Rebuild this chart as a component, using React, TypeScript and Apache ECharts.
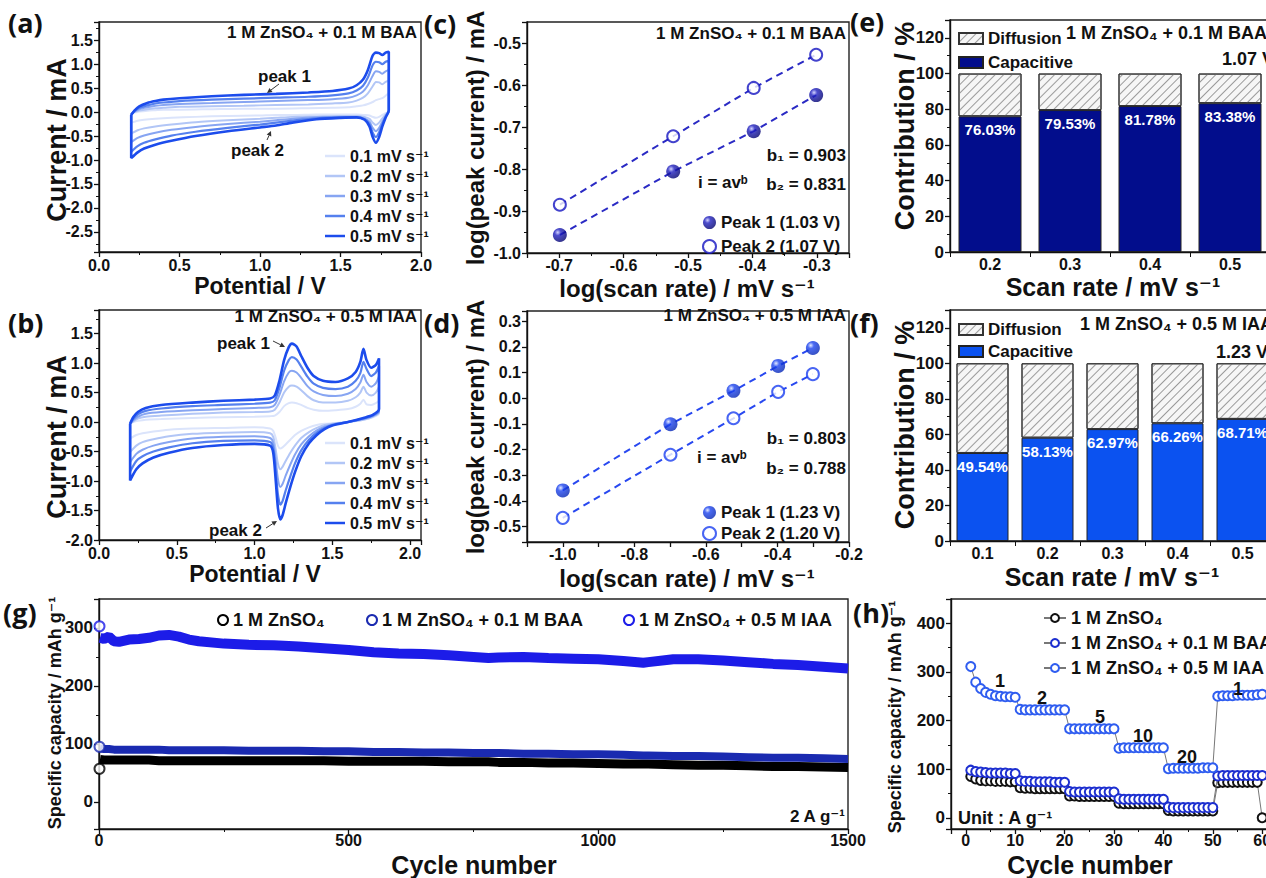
import React, { useEffect, useRef } from 'react';
import * as echarts from 'echarts';

const FONT = '"Liberation Sans", "DejaVu Sans", Arial, sans-serif';
const PFONT = '"Open Sans", "Liberation Sans", sans-serif';

// ---------- (a),(b) cyclic voltammetry ----------
const SCAN_NAMES = ['0.1 mV s⁻¹', '0.2 mV s⁻¹', '0.3 mV s⁻¹', '0.4 mV s⁻¹', '0.5 mV s⁻¹'];
const CV_COLORS = ['#dbe4fb', '#b2c6f6', '#87a5f2', '#5580ee', '#1c4cec'];
const CV_WIDTHS = [2, 2, 2, 2.2, 2.6];

const A_FWD_V = [0.2, 0.22, 0.25, 0.3, 0.35, 0.4, 0.5, 0.7, 0.9, 1.1, 1.3, 1.45, 1.55, 1.6, 1.64, 1.67, 1.7, 1.72, 1.74, 1.76, 1.78, 1.8];
const A_F1 = [-0.03, -0.01, 0.01, 0.03, 0.04, 0.05, 0.05, 0.06, 0.07, 0.07, 0.08, 0.09, 0.1, 0.12, 0.14, 0.17, 0.21, 0.25, 0.27, 0.29, 0.34, 0.4];
const A_F2 = [-0.04, 0.0, 0.03, 0.06, 0.08, 0.09, 0.11, 0.12, 0.13, 0.15, 0.16, 0.18, 0.2, 0.24, 0.3, 0.39, 0.54, 0.63, 0.62, 0.58, 0.63, 0.66];
const A_F3 = [-0.05, 0.01, 0.06, 0.1, 0.13, 0.15, 0.17, 0.19, 0.21, 0.23, 0.25, 0.27, 0.3, 0.35, 0.43, 0.56, 0.76, 0.85, 0.84, 0.8, 0.85, 0.88];
const A_F4 = [-0.05, 0.02, 0.09, 0.14, 0.18, 0.2, 0.23, 0.26, 0.28, 0.3, 0.32, 0.35, 0.39, 0.45, 0.55, 0.72, 0.98, 1.05, 1.04, 1.0, 1.05, 1.07];
const A_F5 = [-0.06, 0.03, 0.12, 0.19, 0.23, 0.26, 0.29, 0.33, 0.36, 0.38, 0.41, 0.44, 0.49, 0.56, 0.68, 0.88, 1.18, 1.24, 1.23, 1.19, 1.24, 1.26];
const A_REV_V = [1.8, 1.78, 1.76, 1.74, 1.72, 1.7, 1.68, 1.65, 1.6, 1.5, 1.35, 1.2, 1.1, 1.0, 0.8, 0.6, 0.45, 0.35, 0.28, 0.24, 0.2];
const A_R1 = [0.02, -0.02, -0.06, -0.1, -0.12, -0.1, -0.07, -0.06, -0.05, -0.05, -0.05, -0.06, -0.06, -0.07, -0.08, -0.1, -0.12, -0.14, -0.16, -0.18, -0.22];
const A_R2 = [0.02, -0.05, -0.13, -0.22, -0.27, -0.22, -0.14, -0.1, -0.08, -0.08, -0.09, -0.1, -0.12, -0.14, -0.17, -0.21, -0.26, -0.3, -0.34, -0.38, -0.45];
const A_R3 = [0.03, -0.08, -0.2, -0.33, -0.4, -0.33, -0.2, -0.13, -0.1, -0.1, -0.11, -0.14, -0.17, -0.2, -0.25, -0.31, -0.37, -0.43, -0.49, -0.54, -0.63];
const A_R4 = [0.03, -0.1, -0.25, -0.42, -0.52, -0.43, -0.25, -0.15, -0.11, -0.11, -0.13, -0.18, -0.22, -0.26, -0.33, -0.41, -0.49, -0.57, -0.64, -0.71, -0.83];
const A_R5 = [0.04, -0.12, -0.3, -0.52, -0.64, -0.52, -0.3, -0.16, -0.11, -0.12, -0.15, -0.22, -0.28, -0.32, -0.4, -0.5, -0.6, -0.68, -0.76, -0.84, -0.96];

const B_FWD_V = [0.2, 0.22, 0.25, 0.3, 0.4, 0.6, 0.8, 1.0, 1.1, 1.13, 1.16, 1.19, 1.22, 1.24, 1.27, 1.3, 1.34, 1.38, 1.44, 1.52, 1.6, 1.65, 1.68, 1.7, 1.72, 1.75, 1.78, 1.8];
const B_F1 = [-0.02, 0.0, 0.02, 0.04, 0.05, 0.07, 0.08, 0.09, 0.1, 0.11, 0.17, 0.27, 0.32, 0.33, 0.32, 0.29, 0.24, 0.21, 0.19, 0.2, 0.22, 0.26, 0.31, 0.38, 0.3, 0.29, 0.32, 0.36];
const B_F2 = [-0.03, 0.01, 0.06, 0.09, 0.11, 0.14, 0.16, 0.17, 0.18, 0.21, 0.33, 0.5, 0.6, 0.62, 0.6, 0.54, 0.44, 0.37, 0.33, 0.33, 0.36, 0.42, 0.5, 0.6, 0.5, 0.45, 0.5, 0.6];
const B_F3 = [-0.03, 0.03, 0.09, 0.14, 0.17, 0.2, 0.22, 0.24, 0.25, 0.29, 0.46, 0.69, 0.84, 0.87, 0.84, 0.75, 0.61, 0.52, 0.46, 0.44, 0.48, 0.56, 0.67, 0.8, 0.68, 0.6, 0.66, 0.78];
const B_F4 = [-0.03, 0.05, 0.13, 0.19, 0.23, 0.27, 0.29, 0.31, 0.33, 0.37, 0.58, 0.87, 1.05, 1.1, 1.06, 0.94, 0.77, 0.65, 0.58, 0.56, 0.6, 0.7, 0.83, 1.02, 0.9, 0.78, 0.84, 0.95];
const B_F5 = [-0.03, 0.08, 0.17, 0.24, 0.29, 0.33, 0.36, 0.38, 0.4, 0.45, 0.7, 1.05, 1.27, 1.33, 1.28, 1.12, 0.92, 0.78, 0.7, 0.68, 0.74, 0.85, 1.02, 1.24, 1.05, 0.92, 0.97, 1.08];
const B_REV_V = [1.8, 1.76, 1.7, 1.6, 1.5, 1.45, 1.4, 1.35, 1.3, 1.26, 1.23, 1.2, 1.18, 1.165, 1.15, 1.135, 1.12, 1.1, 1.0, 0.8, 0.6, 0.45, 0.35, 0.28, 0.24, 0.2];
const B_R1 = [0.14, 0.08, 0.04, 0.0, -0.02, -0.03, -0.05, -0.09, -0.15, -0.22, -0.3, -0.38, -0.43, -0.45, -0.4, -0.26, -0.15, -0.11, -0.09, -0.1, -0.11, -0.13, -0.16, -0.19, -0.22, -0.28];
const B_R2 = [0.16, 0.09, 0.04, 0.0, -0.03, -0.05, -0.1, -0.17, -0.27, -0.4, -0.52, -0.66, -0.76, -0.8, -0.7, -0.45, -0.25, -0.19, -0.17, -0.18, -0.2, -0.24, -0.29, -0.34, -0.4, -0.51];
const B_R3 = [0.18, 0.1, 0.05, 0.0, -0.04, -0.08, -0.14, -0.24, -0.38, -0.55, -0.72, -0.91, -1.05, -1.1, -0.96, -0.62, -0.35, -0.27, -0.24, -0.25, -0.28, -0.34, -0.4, -0.47, -0.54, -0.68];
const B_R4 = [0.2, 0.11, 0.06, 0.0, -0.05, -0.1, -0.18, -0.3, -0.48, -0.7, -0.92, -1.16, -1.34, -1.4, -1.22, -0.8, -0.44, -0.34, -0.31, -0.32, -0.36, -0.43, -0.5, -0.58, -0.66, -0.84];
const B_R5 = [0.22, 0.12, 0.07, 0.0, -0.06, -0.12, -0.22, -0.36, -0.58, -0.85, -1.1, -1.38, -1.58, -1.65, -1.45, -0.95, -0.52, -0.4, -0.37, -0.39, -0.44, -0.52, -0.6, -0.7, -0.8, -0.99];

// ---------- (c),(d) log-log fits ----------
const LOG_V_C = [-0.699, -0.523, -0.398, -0.301];
const C_PEAK1 = [-0.957, -0.806, -0.71, -0.624];
const C_PEAK2 = [-0.885, -0.722, -0.607, -0.528];
const LOG_V_D = [-1.0, -0.699, -0.523, -0.398, -0.301];
const D_PEAK1 = [-0.359, -0.101, 0.029, 0.126, 0.196];
const D_PEAK2 = [-0.466, -0.22, -0.078, 0.025, 0.094];

// ---------- (e),(f) contributions ----------
const E_RATES = ['0.2', '0.3', '0.4', '0.5'];
const E_CAP = [76.03, 79.53, 81.78, 83.38];
const F_RATES = ['0.1', '0.2', '0.3', '0.4', '0.5'];
const F_CAP = [49.54, 58.13, 62.97, 66.26, 68.71];

// ---------- (g) long cycling ----------
const G_CYC = [2, 10, 20, 30, 40, 60, 80, 100, 120, 140, 160, 180, 200, 250, 300, 350, 400, 450, 500, 550, 600, 650, 700, 750, 780, 800, 850, 900, 950, 1000, 1050, 1090, 1100, 1150, 1200, 1250, 1300, 1350, 1400, 1450, 1500];
const G_IAA = [283, 281, 285, 277, 276, 280, 281, 283, 287, 288, 285, 280, 277, 273, 271, 270, 268, 265, 262, 258, 256, 255, 253, 250, 248, 249, 250, 248, 247, 246, 243, 240, 241, 246, 246, 244, 241, 238, 236, 233, 230];
const G_BAA = [92, 91, 91, 90, 90, 90, 90, 90, 90, 89, 89, 89, 89, 89, 88, 88, 88, 87, 87, 86, 86, 85, 85, 84, 84, 84, 83, 83, 82, 82, 81, 80, 80, 79, 79, 78, 77, 76, 76, 75, 74];
const G_ZN = [73, 72, 72, 72, 72, 72, 72, 72, 71, 71, 71, 71, 71, 71, 71, 71, 71, 71, 70, 70, 70, 70, 69, 69, 69, 68, 68, 67, 67, 66, 65, 65, 65, 64, 63, 63, 62, 61, 61, 60, 59];
const G_FIRST = [57, 95, 303]; // cycle 1: ZnSO4, BAA, IAA

// ---------- (h) rate capability ----------
const H_ZN = [85, 80, 77, 76, 76, 75, 75, 75, 74, 74, 62, 61, 61, 60, 60, 60, 60, 60, 60, 60, 45, 45, 44, 44, 44, 44, 44, 44, 44, 44, 30, 29, 29, 29, 29, 29, 29, 29, 29, 29, 15, 14, 14, 14, 14, 14, 14, 14, 14, 14, 72, 73, 73, 73, 73, 73, 73, 73, 73, 0];
const H_BAA = [98, 95, 94, 93, 92, 92, 92, 92, 91, 91, 76, 75, 75, 74, 74, 74, 74, 73, 73, 73, 54, 53, 53, 53, 53, 53, 53, 53, 53, 53, 39, 38, 38, 38, 38, 38, 38, 38, 38, 38, 22, 21, 21, 21, 21, 21, 21, 21, 21, 21, 86, 87, 87, 87, 87, 87, 87, 87, 87, 87];
const H_IAA = [311, 279, 266, 258, 254, 251, 250, 249, 249, 248, 223, 222, 222, 222, 222, 222, 222, 222, 222, 222, 183, 183, 183, 183, 183, 183, 183, 183, 183, 183, 143, 144, 144, 144, 144, 144, 144, 144, 144, 144, 101, 102, 102, 102, 102, 102, 102, 103, 103, 103, 250, 251, 251, 251, 252, 252, 252, 252, 253, 254];

const ELECTROLYTES = ['1 M ZnSO₄', '1 M ZnSO₄ + 0.1 M BAA', '1 M ZnSO₄ + 0.5 M IAA'];
const G_COLORS = ['#000000', '#1a2ab0', '#1c1ce8'];
const H_COLORS = ['#111111', '#1d2fd0', '#2f5df0'];
const E_NAVY = '#020d8c';
const F_BLUE = '#0b52f0';

const loop = (fv: number[], fi: number[], rv: number[], ri: number[]) => [
  ...fv.map((v, k) => [v, fi[k]]),
  ...rv.map((v, k) => [v, ri[k]]),
  [fv[0], fi[0]],
];

const fmt = (step: number, dec: number) => (v: number) => {
  const r = v / step;
  if (Math.abs(r - Math.round(r)) > 1e-6) return '';
  const val = Math.round(r) * step;
  return (Math.abs(val) < 1e-9 ? 0 : val).toFixed(dec);
};

const LBL = { color: '#111', fontFamily: FONT, fontWeight: 'bold' as const };

function axis(gridIndex: number, extra: any, labelSize = 16, minor = true, margin = 6) {
  return {
    gridIndex,
    axisLine: { show: true, onZero: false, lineStyle: { color: '#111', width: 1.4 } },
    axisTick: { show: true, length: 5, lineStyle: { color: '#111', width: 1.3 } },
    minorTick: { show: minor, splitNumber: 2, length: 3, lineStyle: { color: '#111', width: 1 } },
    splitLine: { show: false },
    minorSplitLine: { show: false },
    ...extra,
    axisLabel: { ...LBL, fontSize: labelSize, margin, ...(extra.axisLabel || {}) },
  };
}

const sphere = (c0: string, c1: string, c2: string) => ({
  type: 'radial', x: 0.35, y: 0.32, r: 0.75,
  colorStops: [{ offset: 0, color: c0 }, { offset: 0.3, color: c1 }, { offset: 1, color: c2 }],
});

const HATCH = { symbol: 'rect', symbolSize: 1, dashArrayX: [1, 0], dashArrayY: [1, 5], rotation: -Math.PI / 4, color: '#9a9a9a' };

function txt(text: string, x: number, y: number, size: number, align = 'left', extra: any = {}) {
  return {
    type: 'text', x, y, z: 100, ...extra,
    style: {
      text, fill: '#111', font: `bold ${size}px ${FONT}`,
      textAlign: align, textVerticalAlign: 'middle', align, verticalAlign: 'middle',
    },
  };
}
const vtxt = (text: string, x: number, y: number, size: number) => txt(text, x, y, size, 'center', { rotation: Math.PI / 2 });
const ptxt = (text: string, x: number, y: number) => ({
  type: 'text', x, y, z: 100,
  style: { text, fill: '#111', font: `bold 27px ${PFONT}`, textAlign: 'left', textVerticalAlign: 'middle', align: 'left', verticalAlign: 'middle' },
});
const arrow = (x1: number, y1: number, x2: number, y2: number) => {
  const ang = Math.atan2(y2 - y1, x2 - x1);
  const L = 5, W = 2.5;
  const bx = x2 - L * Math.cos(ang), by = y2 - L * Math.sin(ang);
  return [
    { type: 'line', z: 100, shape: { x1, y1, x2: bx, y2: by }, style: { stroke: '#333', lineWidth: 1 } },
    {
      type: 'polygon', z: 100,
      shape: { points: [[x2, y2], [bx + W * Math.sin(ang), by - W * Math.cos(ang)], [bx - W * Math.sin(ang), by + W * Math.cos(ang)]] },
      style: { fill: '#333' },
    },
  ];
};

function buildOption() {
  const aLoops = [loop(A_FWD_V, A_F1, A_REV_V, A_R1), loop(A_FWD_V, A_F2, A_REV_V, A_R2), loop(A_FWD_V, A_F3, A_REV_V, A_R3), loop(A_FWD_V, A_F4, A_REV_V, A_R4), loop(A_FWD_V, A_F5, A_REV_V, A_R5)];
  const bLoops = [loop(B_FWD_V, B_F1, B_REV_V, B_R1), loop(B_FWD_V, B_F2, B_REV_V, B_R2), loop(B_FWD_V, B_F3, B_REV_V, B_R3), loop(B_FWD_V, B_F4, B_REV_V, B_R4), loop(B_FWD_V, B_F5, B_REV_V, B_R5)];
  const cv = (loops: number[][][], ai: number) => loops.map((d, k) => ({
    type: 'line', name: SCAN_NAMES[k], xAxisIndex: ai, yAxisIndex: ai, data: d,
    showSymbol: false, symbol: 'none', smooth: 0.25,
    lineStyle: { color: CV_COLORS[k], width: CV_WIDTHS[k] }, itemStyle: { color: CV_COLORS[k] }, z: 2 + k,
  }));

  const fit = (xs: number[], ys: number[], ai: number, color: string) => ({
    type: 'line', name: 'fit', xAxisIndex: ai, yAxisIndex: ai, data: xs.map((x, i) => [x, ys[i]]),
    showSymbol: false, symbol: 'none', lineStyle: { color, width: 2, type: [7, 5] }, z: 2,
  });
  const filled = (name: string, xs: number[], ys: number[], ai: number, grad: any) => ({
    type: 'scatter', name, xAxisIndex: ai, yAxisIndex: ai, data: xs.map((x, i) => [x, ys[i]]),
    symbol: 'circle', symbolSize: 14, itemStyle: { color: grad }, z: 5,
  });
  const open = (name: string, xs: number[], ys: number[], ai: number, color: string) => ({
    type: 'scatter', name, xAxisIndex: ai, yAxisIndex: ai, data: xs.map((x, i) => [x, ys[i]]),
    symbol: 'emptyCircle', symbolSize: 12, itemStyle: { color, borderWidth: 2.5 }, z: 5,
  });

  const capLabel = { show: true, position: 'insideTop', distance: 6, ...LBL, color: '#fff', fontSize: 15, formatter: (p: any) => p.value.toFixed(2) + '%' };
  const bars = (cats: number[], ai: number, color: string, width: number, stack: string) => [
    {
      type: 'bar', name: 'Capacitive', xAxisIndex: ai, yAxisIndex: ai, stack, data: cats, barWidth: width,
      itemStyle: { color, borderColor: '#222', borderWidth: 1 }, label: capLabel,
    },
    {
      type: 'bar', name: 'Diffusion', xAxisIndex: ai, yAxisIndex: ai, stack, data: cats.map((v) => +(100 - v).toFixed(2)), barWidth: width,
      itemStyle: { color: '#f6f6f6', borderColor: '#333', borderWidth: 1, decal: HATCH },
    },
  ];

  const gNames = ELECTROLYTES.map((n) => n + '\u200b');
  const gData = [G_ZN, G_BAA, G_IAA];
  const gWidths = [9, 8, 10];
  const gSeries = gData.map((arr, k) => ({
    type: 'line', name: gNames[k], xAxisIndex: 6, yAxisIndex: 6, data: G_CYC.map((c, i) => [c, arr[i]]),
    showSymbol: false, symbol: 'emptyCircle', lineStyle: { color: G_COLORS[k], width: gWidths[k] },
    itemStyle: { color: G_COLORS[k] }, z: 2 + k,
  }));
  const gFirst = {
    type: 'scatter', name: 'first', xAxisIndex: 6, yAxisIndex: 6, symbol: 'emptyCircle', symbolSize: 10, z: 6,
    data: G_FIRST.map((v, k) => ({ value: [1, v], itemStyle: { color: G_COLORS[k], borderWidth: 2 } })),
  };

  const hData = [H_ZN, H_BAA, H_IAA];
  const hSeries = hData.map((arr, k) => ({
    type: 'line', name: ELECTROLYTES[k], xAxisIndex: 7, yAxisIndex: 7, data: arr.map((v, i) => [i + 1, v]),
    symbol: 'emptyCircle', symbolSize: 9, showSymbol: true, showAllSymbol: true,
    lineStyle: { color: '#777', width: 1 }, itemStyle: { color: H_COLORS[k], borderWidth: 1.8 }, z: 2 + k,
  }));

  const legendText = (size: number) => ({ ...LBL, fontSize: size });
  const cvLegendData = SCAN_NAMES.map((n, k) => ({ name: n, itemStyle: { color: CV_COLORS[k] } }));

  const graphic: any[] = [
    ptxt('(a)', 8, 22), ptxt('(b)', 8, 322), ptxt('(c)', 424, 23), ptxt('(d)', 424, 322),
    ptxt('(e)', 850, 21), ptxt('(f)', 850, 322), ptxt('(g)', 3, 612), ptxt('(h)', 853, 612),
    // axis titles
    vtxt('Current / mA', 57, 140, 27), txt('Potential / V', 260, 286, 23, 'center'),
    vtxt('Current / mA', 57, 437, 27), txt('Potential / V', 255, 574, 23, 'center'),
    vtxt('log(peak current) / mA', 475, 138, 24), txt('log(scan rate) / mV s⁻¹', 687, 288, 24, 'center'),
    vtxt('log(peak current) / mA', 475, 427, 24), txt('log(scan rate) / mV s⁻¹', 687, 578, 24, 'center'),
    vtxt('Contribution / %', 905, 126, 27), txt('Scan rate / mV s⁻¹', 1113, 287, 25, 'center'),
    vtxt('Contribution / %', 905, 425, 27), txt('Scan rate / mV s⁻¹', 1112, 577, 25, 'center'),
    vtxt('Specific capacity / mAh g⁻¹', 55, 713, 18), txt('Cycle number', 474, 865, 25, 'center'),
    vtxt('Specific capacity / mAh g⁻¹', 895, 717, 18), txt('Cycle number', 1090, 865, 25, 'center'),
    // annotations
    txt('1 M ZnSO₄ + 0.1 M BAA', 417, 32, 17, 'right'),
    txt('1 M ZnSO₄ + 0.5 M IAA', 417, 316, 17, 'right'),
    txt('peak 1', 258, 76, 17), txt('peak 2', 231, 150, 17),
    txt('peak 1', 217, 343, 17), txt('peak 2', 209, 530, 17),
    txt('1 M ZnSO₄ + 0.1 M BAA', 846, 33, 17, 'right'),
    txt('b₁ = 0.903', 846, 155, 17, 'right'), txt('b₂ = 0.831', 846, 184, 17, 'right'), txt('i = avᵇ', 698, 182, 17),
    txt('1 M ZnSO₄ + 0.5 M IAA', 846, 315, 17, 'right'),
    txt('b₁ = 0.803', 846, 438, 17, 'right'), txt('b₂ = 0.788', 846, 468, 17, 'right'), txt('i = avᵇ', 697, 457, 17),
    txt('1 M ZnSO₄ + 0.1 M BAA', 1066, 33, 18), txt('1.07 V', 1222, 59, 18),
    txt('1 M ZnSO₄ + 0.5 M IAA', 1080, 324, 18), txt('1.23 V', 1216, 352, 18),
    txt('2 A g⁻¹', 845, 816, 17, 'right'),
    txt('Unit : A g⁻¹', 958, 818, 18),
    txt('1', 1000, 681, 18, 'center'), txt('2', 1042, 698, 18, 'center'), txt('5', 1100, 717, 18, 'center'),
    txt('10', 1143, 736, 18, 'center'), txt('20', 1187, 757, 18, 'center'), txt('1', 1238, 689, 18, 'center'),
    ...arrow(279, 84, 267, 93), ...arrow(267, 140, 271, 131),
    ...arrow(273, 341, 285, 347), ...arrow(266, 528, 277, 521),
  ];

  return {
    animation: false,
    backgroundColor: '#fff',
    textStyle: { fontFamily: FONT },
    grid: [
      { left: 99, top: 22, width: 322, height: 230 },
      { left: 99, top: 310, width: 322, height: 230 },
      { left: 527, top: 22, width: 322, height: 231 },
      { left: 527, top: 311, width: 322, height: 231 },
      { left: 950, top: 20, width: 320, height: 232 },
      { left: 950, top: 310, width: 325, height: 231 },
      { left: 99, top: 599, width: 749, height: 230 },
      { left: 951, top: 599, width: 326, height: 230 },
    ].map((g) => ({ ...g, show: true, borderColor: '#222', borderWidth: 1.4, outerBoundsMode: 'none', containLabel: false })),
    xAxis: [
      axis(0, { type: 'value', min: 0, max: 2, interval: 0.5, axisLabel: { formatter: fmt(0.5, 1) } }, 16, true, 5),
      axis(1, { type: 'value', min: 0, max: 2.07, interval: 0.5, axisLabel: { formatter: fmt(0.5, 1) } }, 16, true, 5),
      axis(2, { type: 'value', min: -0.75, max: -0.25, splitNumber: 5, axisLabel: { formatter: fmt(0.1, 1) } }, 16, true, 4),
      axis(3, { type: 'value', min: -1.1, max: -0.2, splitNumber: 9, axisLabel: { formatter: fmt(0.2, 1) } }, 16, false, 4),
      axis(4, { type: 'category', data: E_RATES, axisTick: { show: true, length: 5, lineStyle: { color: '#111' } } }, 16, false, 4),
      axis(5, { type: 'category', data: F_RATES, axisTick: { show: true, length: 5, lineStyle: { color: '#111' } } }, 16, false, 4),
      axis(6, { type: 'value', min: 0, max: 1500, interval: 500, axisLabel: { formatter: fmt(500, 0) } }, 16, true, 3),
      axis(7, { type: 'value', min: -3, max: 63, splitNumber: 7, axisLabel: { formatter: fmt(10, 0) } }, 16, true, 3),
    ],
    yAxis: [
      axis(0, { type: 'value', min: -2.92, max: 1.88, splitNumber: 10, axisLabel: { formatter: fmt(0.5, 1) } }),
      axis(1, { type: 'value', min: -2.0, max: 1.9, interval: 0.5, axisLabel: { formatter: fmt(0.5, 1) } }),
      axis(2, { type: 'value', min: -1.0, max: -0.45, splitNumber: 6, axisLabel: { formatter: fmt(0.1, 1) } }),
      axis(3, { type: 'value', min: -0.56, max: 0.34, splitNumber: 9, axisLabel: { formatter: fmt(0.1, 1) } }, 16, false),
      axis(4, { type: 'value', min: 0, max: 130, interval: 20, axisLabel: { formatter: fmt(20, 0) } }, 17),
      axis(5, { type: 'value', min: 0, max: 130, interval: 20, axisLabel: { formatter: fmt(20, 0) } }, 17),
      axis(6, { type: 'value', min: -47, max: 350, splitNumber: 4, axisLabel: { formatter: fmt(100, 0) } }, 17),
      axis(7, { type: 'value', min: -23, max: 450, splitNumber: 5, axisLabel: { formatter: fmt(100, 0) } }, 17),
    ],
    legend: [
      { left: 320, top: 143, orient: 'vertical', icon: 'rect', itemWidth: 20, itemHeight: 2.5, itemGap: 4, selectedMode: false, data: cvLegendData, textStyle: legendText(16) },
      { left: 320, top: 430, orient: 'vertical', icon: 'rect', itemWidth: 20, itemHeight: 2.5, itemGap: 4, selectedMode: false, data: cvLegendData, textStyle: legendText(16) },
      { left: 697, top: 209, orient: 'vertical', itemWidth: 13, itemHeight: 13, itemGap: 7, selectedMode: false, data: ['Peak 1 (1.03 V)', 'Peak 2 (1.07 V)'], textStyle: legendText(17) },
      { left: 697, top: 499, orient: 'vertical', itemWidth: 13, itemHeight: 13, itemGap: 4, selectedMode: false, data: ['Peak 1 (1.23 V)', 'Peak 2 (1.20 V)'], textStyle: legendText(17) },
      { left: 953, top: 25, orient: 'vertical', icon: 'rect', itemWidth: 24, itemHeight: 11, itemGap: 7, selectedMode: false, data: ['Diffusion', 'Capacitive'], textStyle: legendText(17) },
      { left: 953, top: 316, orient: 'vertical', icon: 'rect', itemWidth: 24, itemHeight: 11, itemGap: 5, selectedMode: false, data: ['Diffusion', { name: 'Capacitive', itemStyle: { color: F_BLUE } }], textStyle: legendText(17) },
      { left: 212, top: 606, icon: 'emptyCircle', itemWidth: 10, itemHeight: 10, selectedMode: false, data: [gNames[0]], textStyle: legendText(18) },
      { left: 361, top: 606, icon: 'emptyCircle', itemWidth: 10, itemHeight: 10, selectedMode: false, data: [gNames[1]], textStyle: legendText(18) },
      { left: 618, top: 606, icon: 'emptyCircle', itemWidth: 10, itemHeight: 10, selectedMode: false, data: [gNames[2]], textStyle: legendText(18) },
      { left: 1038, top: 604, orient: 'vertical', itemWidth: 22, itemHeight: 10, itemGap: 7, selectedMode: false, data: ELECTROLYTES, textStyle: legendText(18) },
    ],
    series: [
      ...cv(aLoops, 0),
      ...cv(bLoops, 1),
      fit(LOG_V_C, C_PEAK1, 2, '#2a2ac4'), fit(LOG_V_C, C_PEAK2, 2, '#2a2ac4'),
      filled('Peak 1 (1.03 V)', LOG_V_C, C_PEAK1, 2, sphere('#c8c8ff', '#2020c0', '#00006a')),
      open('Peak 2 (1.07 V)', LOG_V_C, C_PEAK2, 2, '#1414c0'),
      fit(LOG_V_D, D_PEAK1, 3, '#2848f0'), fit(LOG_V_D, D_PEAK2, 3, '#2848f0'),
      filled('Peak 1 (1.23 V)', LOG_V_D, D_PEAK1, 3, sphere('#dce4ff', '#1c44f0', '#0424b0')),
      open('Peak 2 (1.20 V)', LOG_V_D, D_PEAK2, 3, '#1a3ef0'),
      ...bars(E_CAP, 4, E_NAVY, 63, 'e'),
      ...bars(F_CAP, 5, F_BLUE, 52, 'f'),
      ...gSeries, gFirst,
      ...hSeries,
    ],
    graphic,
  };
}

export default function App() {
  const ref = useRef<HTMLDivElement>(null);
  useEffect(() => {
    const chart = echarts.init(ref.current!, null, { renderer: 'svg' });
    chart.setOption(buildOption() as any);
    return () => chart.dispose();
  }, []);
  return <div ref={ref} style={{ position: 'fixed', left: 0, top: 0, width: 1266, height: 878, background: '#fff', overflow: 'hidden' }} />;
}
